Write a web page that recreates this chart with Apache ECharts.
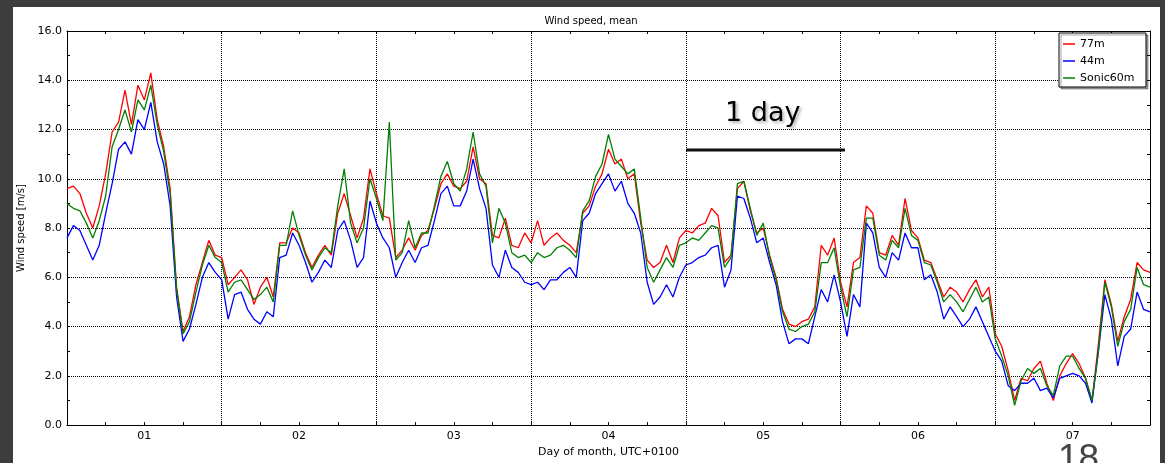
<!DOCTYPE html>
<html>
<head>
<meta charset="utf-8">
<script src="https://cdn.jsdelivr.net/npm/echarts@6/dist/echarts.min.js"></script>
<style>
  html, body { margin: 0; padding: 0; width: 1165px; height: 463px; overflow: hidden; background: #3d3e3c; }
  #panel { position: absolute; left: 13px; top: 7px; width: 1147px; height: 456px; background: #ffffff; }
  #chart { position: absolute; left: 0; top: 0; width: 1165px; height: 463px; }
</style>
</head>
<body>
<div id="panel"></div>
<div id="chart"></div>
<script>
// Hourly mean wind speed [m/s], starting at 00:00 of day 01 (axis start), 169 samples
const speed77m = [
  9.6, 9.7, 9.4, 8.6, 8.0, 8.9, 10.2, 11.9, 12.3, 13.6, 12.2, 13.8, 13.2, 14.3, 12.4, 11.3, 9.6, 5.6, 3.8, 4.4,
  5.7, 6.6, 7.5, 6.9, 6.8, 5.7, 6.0, 6.3, 5.9, 4.9, 5.6, 6.0, 5.2, 7.4, 7.4, 8.0, 7.8, 7.0, 6.4, 6.9,
  7.3, 6.9, 8.6, 9.4, 8.5, 7.6, 8.4, 10.4, 9.4, 8.5, 8.4, 6.8, 7.1, 7.6, 7.1, 7.7, 7.9, 8.8, 9.8, 10.2,
  9.7, 9.6, 9.9, 11.3, 10.0, 9.8, 7.7, 7.6, 8.4, 7.3, 7.2, 7.8, 7.4, 8.3, 7.3, 7.6, 7.8, 7.5, 7.3, 7.0,
  8.6, 8.9, 9.7, 10.2, 11.2, 10.6, 10.8, 10.0, 10.2, 8.2, 6.7, 6.4, 6.6, 7.3, 6.6, 7.6, 7.9, 7.8, 8.1, 8.2,
  8.8, 8.5, 6.6, 6.9, 9.6, 9.9, 8.7, 7.8, 8.0, 6.9, 6.0, 4.7, 4.1, 4.0, 4.2, 4.3, 4.8, 7.3, 6.9, 7.6,
  5.8, 4.8, 6.6, 6.8, 8.9, 8.6, 7.0, 6.9, 7.7, 7.3, 9.2, 7.9, 7.6, 6.7, 6.6, 5.9, 5.2, 5.6, 5.4, 5.0,
  5.5, 5.9, 5.2, 5.6, 3.7, 3.2, 2.2, 1.0, 1.9, 1.8, 2.3, 2.6, 1.7, 1.0, 2.0, 2.5, 2.9, 2.5, 1.9, 1.0,
  3.3, 5.9, 4.9, 3.4, 4.4, 5.1, 6.6, 6.3, 6.2
];
const speed44m = [
  7.6, 8.1, 7.9, 7.3, 6.7, 7.3, 8.6, 9.8, 11.2, 11.5, 11.0, 12.4, 12.0, 13.1, 11.5, 10.6, 8.9, 5.2, 3.4, 3.9,
  4.9, 6.0, 6.6, 6.2, 5.9, 4.3, 5.3, 5.4, 4.7, 4.3, 4.1, 4.6, 4.4, 6.8, 6.9, 7.8, 7.3, 6.6, 5.8, 6.2,
  6.7, 6.4, 7.9, 8.3, 7.5, 6.4, 6.8, 9.1, 8.2, 7.6, 7.2, 6.0, 6.6, 7.1, 6.6, 7.2, 7.3, 8.3, 9.4, 9.7,
  8.9, 8.9, 9.5, 10.8, 9.6, 8.8, 6.5, 6.0, 7.1, 6.4, 6.2, 5.8, 5.7, 5.8, 5.5, 5.9, 5.9, 6.2, 6.4, 6.0,
  8.3, 8.6, 9.4, 9.8, 10.2, 9.5, 9.9, 9.0, 8.6, 7.8, 5.8, 4.9, 5.2, 5.7, 5.2, 6.0, 6.5, 6.6, 6.8, 6.9,
  7.2, 7.3, 5.6, 6.3, 9.3, 9.2, 8.4, 7.4, 7.6, 6.6, 5.7, 4.2, 3.3, 3.5, 3.5, 3.3, 4.4, 5.5, 5.0, 6.1,
  5.0, 3.6, 5.3, 4.8, 8.2, 7.8, 6.4, 6.0, 7.0, 6.7, 7.8, 7.2, 7.2, 5.9, 6.1, 5.4, 4.3, 4.8, 4.4, 4.0,
  4.3, 4.8, 4.2, 3.6, 3.0, 2.6, 1.6, 1.4, 1.7, 1.7, 1.9, 1.4, 1.5, 1.1, 1.9, 2.0, 2.1, 2.0, 1.7, 0.9,
  3.0, 5.3, 4.3, 2.4, 3.6, 3.9, 5.4, 4.7, 4.6
];
const speedSonic60m = [
  9.0, 8.8, 8.7, 8.2, 7.6, 8.3, 9.3, 11.3, 12.0, 12.8, 11.9, 13.2, 12.8, 13.8, 12.2, 11.1, 9.4, 5.5, 3.7, 4.2,
  5.4, 6.5, 7.3, 6.8, 6.6, 5.4, 5.8, 5.9, 5.5, 5.1, 5.3, 5.6, 5.0, 7.3, 7.3, 8.7, 7.7, 6.9, 6.3, 6.8,
  7.2, 7.0, 8.9, 10.4, 8.2, 7.4, 8.0, 10.0, 9.2, 8.3, 12.3, 6.7, 7.0, 8.3, 7.2, 7.8, 7.8, 8.9, 10.1, 10.7,
  9.8, 9.5, 10.4, 11.9, 10.2, 9.7, 7.4, 8.8, 8.2, 7.0, 6.8, 6.9, 6.6, 7.0, 6.8, 6.9, 7.2, 7.3, 7.1, 6.8,
  8.7, 9.1, 10.1, 10.6, 11.8, 10.8, 10.5, 10.2, 10.4, 8.4, 6.4, 5.8, 6.3, 6.8, 6.4, 7.3, 7.4, 7.6, 7.5, 7.8,
  8.1, 8.0, 6.4, 6.8, 9.8, 9.9, 8.8, 7.7, 8.2, 6.8, 5.9, 4.6, 3.9, 3.8, 4.0, 4.1, 4.6, 6.6, 6.6, 7.2,
  5.6, 4.4, 6.3, 6.4, 8.4, 8.4, 6.9, 6.7, 7.5, 7.2, 8.8, 7.7, 7.5, 6.6, 6.5, 5.8, 5.0, 5.3, 5.0, 4.6,
  5.1, 5.6, 5.0, 5.2, 3.5, 2.8, 2.0, 0.8, 1.8, 2.3, 2.1, 2.3, 1.6, 1.2, 2.4, 2.8, 2.8, 2.3, 1.9, 1.0,
  3.0, 5.8, 4.8, 3.2, 4.2, 4.7, 6.4, 5.7, 5.6
];
const seriesNames = ['77m', '44m', 'Sonic60m'];
const seriesColors = ['#ff0000', '#0000ff', '#008000'];
const dayLabels = ['01', '02', '03', '04', '05', '06', '07'];
const hoursPerDay = 24;

const FONT = 'DejaVu Sans';

function toPoints(arr) {
  return arr.map((v, i) => [i / hoursPerDay, v]);
}

const chart = echarts.init(document.getElementById('chart'), null, { renderer: 'canvas' });

const seriesData = [speed77m, speed44m, speedSonic60m];

const option = {
  backgroundColor: 'transparent',
  animation: false,
  title: {
    text: 'Wind speed, mean',
    left: 586, top: 11, textAlign: 'center',
    textStyle: { fontFamily: FONT, fontSize: 10, fontWeight: 'normal', color: '#000' }
  },
  grid: { left: 67, top: 31, right: 15, bottom: 36, containLabel: false },
  legend: {
    orient: 'vertical',
    left: 1059, top: 33,
    padding: [5, 3, 3, 4],
    itemGap: 5,
    itemWidth: 12, itemHeight: 1.5,
    icon: 'rect',
    backgroundColor: '#fff',
    borderColor: '#000', borderWidth: 1,
    shadowColor: 'rgba(0,0,0,0.35)', shadowOffsetX: 2, shadowOffsetY: 2, shadowBlur: 0,
    textStyle: { fontFamily: FONT, fontSize: 11, color: '#000', lineHeight: 12, height: 12, width: 63 },
    data: seriesNames
  },
  xAxis: [
    {
      type: 'value', position: 'bottom', min: 0, max: 7, interval: 0.25,
      name: 'Day of month, UTC+0100', nameLocation: 'middle', nameGap: 21,
      nameTextStyle: { fontFamily: FONT, fontSize: 11, color: '#000' },
      axisLine: { show: true, onZero: false, lineStyle: { color: '#000', width: 1 } },
      axisTick: { show: true, inside: true, length: 3, lineStyle: { color: '#000' } },
      axisLabel: {
        margin: 6, fontFamily: FONT, fontSize: 11, color: '#000',
        formatter: function (v) {
          const d = v - 0.5;
          const k = Math.round(d);
          if (Math.abs(d - k) < 1e-6 && k >= 0 && k < dayLabels.length) return dayLabels[k];
          return '';
        }
      },
      splitLine: { show: false }
    },
    {
      type: 'value', position: 'top', min: 0, max: 7, interval: 1,
      axisLine: { show: true, onZero: false, lineStyle: { color: '#000', width: 1 } },
      axisTick: { show: true, inside: true, length: 3, lineStyle: { color: '#000' } },
      minorTick: { show: true, splitNumber: 4, length: 3, lineStyle: { color: '#000' } },
      axisLabel: { show: false },
      splitLine: { show: true, lineStyle: { color: '#000', width: 1, type: [1, 1] } }
    }
  ],
  yAxis: [
    {
      type: 'value', position: 'left', min: 0, max: 16, interval: 2,
      name: 'Wind speed [m/s]', nameLocation: 'middle', nameGap: 36, nameRotate: 90,
      nameTextStyle: { fontFamily: FONT, fontSize: 10, color: '#000' },
      axisLine: { show: true, onZero: false, lineStyle: { color: '#000', width: 1 } },
      axisTick: { show: true, inside: true, length: 3, lineStyle: { color: '#000' } },
      minorTick: { show: true, splitNumber: 2, length: 3, lineStyle: { color: '#000' } },
      axisLabel: { margin: 5, fontFamily: FONT, fontSize: 11, color: '#000', formatter: v => v.toFixed(1) },
      splitLine: { show: true, lineStyle: { color: '#000', width: 1, type: [1, 1] } }
    },
    {
      type: 'value', position: 'right', min: 0, max: 16, interval: 2,
      axisLine: { show: true, onZero: false, lineStyle: { color: '#000', width: 1 } },
      axisTick: { show: true, inside: true, length: 3, lineStyle: { color: '#000' } },
      minorTick: { show: true, splitNumber: 2, length: 3, lineStyle: { color: '#000' } },
      axisLabel: { show: false },
      splitLine: { show: false }
    }
  ],
  series: seriesNames.map((name, i) => ({
    name: name,
    type: 'line',
    xAxisIndex: 0, yAxisIndex: 0,
    data: toPoints(seriesData[i]),
    showSymbol: false, symbol: 'none',
    color: seriesColors[i],
    lineStyle: { color: seriesColors[i], width: 1.3 },
    z: 3 + i
  })),
  graphic: [
    {
      type: 'text', left: 725, top: 100, z: 100,
      style: {
        text: '1 day', fontFamily: FONT, fontSize: 27, fill: '#000',
        textShadowColor: 'rgba(0,0,0,0.3)', textShadowBlur: 3, textShadowOffsetX: 2, textShadowOffsetY: 2
      }
    },
    {
      type: 'line', z: 100,
      shape: { x1: 686, y1: 150, x2: 845, y2: 150 },
      style: { stroke: '#111', lineWidth: 3 }
    },
    {
      type: 'text', left: 1058, top: 441, z: 100,
      style: { text: '18', fontFamily: 'Liberation Sans', fontSize: 37, fill: '#444' }
    }
  ]
};

chart.setOption(option);
</script>
</body>
</html>
